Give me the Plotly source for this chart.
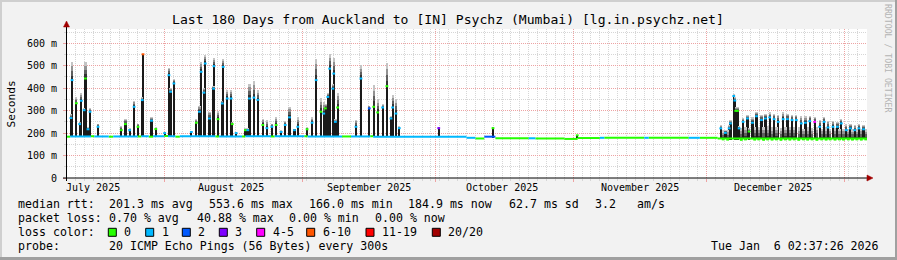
import plotly.graph_objects as go

# ---------------- canvas geometry ----------------
W, H = 897, 260
PL, PR, PT, PB = 67, 30, 29, 82
PW = W - PL - PR
PH = H - PT - PB

T_START = "2025-07-10 02:37:26"
T_END = "2026-01-06 02:37:26"
Y_MAX = 663.6

FONT = "DejaVu Sans Mono"

# ---------------- data ----------------
loss_labels = ["0", "1", "2", "3", "4-5", "6-10", "11-19", "20/20"]
loss_colors = ["#26ff00", "#00b8ff", "#0059ff", "#7e00ff", "#ff00ff", "#ff5500", "#ff0000", "#a10000"]

month_label_dates = ["2025-07-16", "2025-08-16", "2025-09-16", "2025-10-16", "2025-11-16", "2025-12-16"]
month_labels = ["July 2025", "August 2025", "September 2025", "October 2025", "November 2025", "December 2025"]

y_tick_vals = [0, 100, 200, 300, 400, 500, 600]
y_tick_text = ["0", "100 m", "200 m", "300 m", "400 m", "500 m", "600 m"]

# baseline median (ms) runs: start, value, loss level (each run lasts until the next start)
base_start = ["2025-07-10 02:37", "2025-07-10 20:00", "2025-07-15 12:00", "2025-07-16 06:00", "2025-07-19 12:00",
              "2025-07-20 12:00", "2025-07-26 00:00", "2025-07-26 20:00", "2025-07-28 12:00", "2025-07-29 12:00",
              "2025-08-01 00:00", "2025-08-01 20:00", "2025-08-03 12:00", "2025-08-04 12:00", "2025-08-12 12:00",
              "2025-08-13 08:00", "2025-08-18 12:00", "2025-08-19 06:00", "2025-08-25 00:00", "2025-08-25 20:00",
              "2025-09-01 12:00", "2025-09-02 06:00", "2025-09-10 00:00", "2025-09-12 00:00", "2025-09-16 08:00",
              "2025-09-17 00:00", "2025-10-08 00:00", "2025-10-10 00:00", "2025-10-12 00:00", "2025-10-14 12:00",
              "2025-10-22 00:00", "2025-10-23 12:00", "2025-10-30 00:00", "2025-11-02 00:00", "2025-11-07 00:00",
              "2025-11-08 00:00", "2025-11-17 00:00", "2025-11-18 00:00", "2025-11-27 00:00", "2025-11-29 12:00",
              "2025-12-03 12:00"]
base_end = base_start[1:] + [T_END]
base_value = [184, 185, 186, 185, 184,
              185, 185, 186, 184, 186,
              187, 186, 184, 186, 185,
              185, 185, 186, 185, 186,
              186, 185, 185, 185, 186,
              184, 179, 176, 184, 177,
              177, 176, 174, 178, 179,
              179, 179, 179, 179, 179,
              176]
base_loss = [0, 1, 0, 1, 0,
             1, 0, 1, 0, 1,
             0, 1, 0, 1, 0,
             1, 0, 1, 0, 1,
             0, 1, 0, 1, 0,
             1, 1, 0, 2, 0,
             1, 0, 0, 0, 1,
             0, 1, 0, 1, 0,
             0]

# spikes: time, median, smoke top, smoke floor, loss level
spike_times = [
    "2025-07-11 00:00", "2025-07-11 06:00", "2025-07-12 05:00", "2025-07-12 23:00", "2025-07-13 08:00",
    "2025-07-13 23:00", "2025-07-14 06:00", "2025-07-14 20:00", "2025-07-15 07:00", "2025-07-17 02:00",
    "2025-07-22 08:00", "2025-07-23 06:00", "2025-07-24 05:00", "2025-07-25 05:00", "2025-07-26 02:00",
    "2025-07-27 01:00", "2025-07-27 05:00", "2025-07-29 03:00", "2025-07-30 02:00", "2025-08-01 02:00",
    "2025-08-02 01:00", "2025-08-02 10:00", "2025-08-03 04:00", "2025-08-07 02:00", "2025-08-08 05:00",
    "2025-08-08 22:00", "2025-08-09 07:00", "2025-08-09 22:00", "2025-08-10 05:00", "2025-08-11 04:00",
    "2025-08-12 02:00", "2025-08-12 04:00", "2025-08-13 02:00", "2025-08-14 01:00", "2025-08-14 06:00",
    "2025-08-15 04:00", "2025-08-16 01:00", "2025-08-16 07:00", "2025-08-17 04:00", "2025-08-19 06:00",
    "2025-08-19 19:00", "2025-08-20 04:00", "2025-08-21 04:00", "2025-08-22 01:00", "2025-08-23 04:00",
    "2025-08-24 02:00", "2025-08-25 05:00", "2025-08-26 04:00", "2025-08-27 07:00", "2025-08-28 05:00",
    "2025-08-29 04:00", "2025-08-30 07:00", "2025-08-31 01:00",
    "2025-09-02 03:00", "2025-09-03 06:00", "2025-09-04 04:00", "2025-09-05 06:00", "2025-09-05 21:00",
    "2025-09-06 06:00", "2025-09-06 19:00", "2025-09-07 05:00", "2025-09-07 22:00", "2025-09-08 03:00",
    "2025-09-08 12:00", "2025-09-09 00:00", "2025-09-13 03:00", "2025-09-14 06:00", "2025-09-16 03:00",
    "2025-09-17 03:00", "2025-09-18 00:00", "2025-09-19 03:00", "2025-09-20 02:00", "2025-09-21 00:00",
    "2025-09-21 09:00", "2025-09-22 03:00", "2025-09-22 21:00",
    "2025-10-01 18:00", "2025-10-13 23:00", "2025-11-01 22:00",
    "2025-12-04 05:00", "2025-12-04 18:00", "2025-12-05 06:00", "2025-12-05 18:00", "2025-12-06 02:00",
    "2025-12-06 09:00", "2025-12-07 03:00", "2025-12-07 09:00", "2025-12-07 14:00", "2025-12-07 23:00",
    "2025-12-08 08:00", "2025-12-08 20:00", "2025-12-09 06:00", "2025-12-09 18:00", "2025-12-10 05:00",
    "2025-12-10 14:00", "2025-12-11 08:00", "2025-12-11 20:00", "2025-12-12 06:00", "2025-12-12 18:00",
    "2025-12-13 09:00", "2025-12-13 20:00", "2025-12-14 06:00", "2025-12-14 18:00", "2025-12-15 05:00",
    "2025-12-15 18:00", "2025-12-16 05:00", "2025-12-16 18:00", "2025-12-17 03:00", "2025-12-17 18:00",
    "2025-12-18 06:00", "2025-12-18 18:00", "2025-12-19 05:00", "2025-12-19 18:00", "2025-12-20 06:00",
    "2025-12-20 18:00", "2025-12-21 05:00", "2025-12-21 18:00", "2025-12-22 08:00", "2025-12-22 20:00",
    "2025-12-23 06:00", "2025-12-23 18:00", "2025-12-24 05:00", "2025-12-24 18:00", "2025-12-25 08:00",
    "2025-12-25 20:00", "2025-12-26 11:00", "2025-12-26 22:00", "2025-12-27 11:00", "2025-12-27 22:00",
    "2025-12-28 08:00", "2025-12-28 20:00", "2025-12-29 11:00", "2025-12-29 22:00", "2025-12-30 11:00",
    "2025-12-30 22:00", "2025-12-31 08:00", "2025-12-31 20:00", "2026-01-01 11:00", "2026-01-01 22:00",
    "2026-01-02 09:00", "2026-01-02 20:00", "2026-01-03 08:00", "2026-01-03 20:00", "2026-01-04 07:00",
    "2026-01-04 20:00", "2026-01-05 08:00", "2026-01-05 20:00",
]
spike_median = [
    267, 436, 333, 240, 344, 302, 443, 217, 295, 228,
    213, 240, 213, 317, 228, 347, 551, 255, 218, 200,
    458, 384, 421, 205, 246, 295, 473, 380, 510, 265,
    398, 498, 262, 332, 495, 354, 354, 240, 200, 213,
    213, 354, 358, 348, 236, 222, 228, 236, 205, 236,
    270, 213, 228,
    217, 246, 436, 295, 287, 310, 361, 487, 398, 465,
    250, 314, 228, 443, 310, 317, 292, 314, 409, 265,
    314, 287, 222,
    222, 222, 190,
    221, 172, 201, 171, 221, 243, 365, 345, 299, 299,
    221, 170, 250, 172, 265, 207, 246, 171, 275, 172,
    258, 170, 265, 172, 270, 171, 262, 172, 250, 170,
    262, 172, 262, 171, 258, 172, 258, 170, 243, 172,
    246, 171, 253, 172, 250, 170, 228, 172, 250, 171,
    225, 172, 228, 171, 228, 172, 243, 171, 213, 172,
    221, 171, 213, 172, 221, 171, 217, 172,
]
spike_top = [
    285, 517, 361, 250, 377, 312, 517, 225, 312, 242,
    233, 265, 222, 345, 242, 360, 554, 272, 226, 205,
    492, 400, 442, 210, 262, 322, 517, 400, 547, 295,
    410, 535, 300, 345, 532, 390, 390, 250, 205, 222,
    222, 420, 430, 390, 265, 258, 242, 270, 212, 252,
    318, 220, 270,
    225, 270, 532, 355, 340, 330, 380, 553, 420, 535,
    262, 380, 260, 502, 322, 413, 350, 330, 510, 275,
    370, 350, 230,
    226, 226, 192,
    235, 212, 215, 215, 235, 258, 373, 360, 315, 315,
    232, 222, 268, 225, 282, 222, 270, 228, 292, 225,
    282, 228, 287, 230, 292, 225, 287, 228, 282, 222,
    292, 228, 287, 228, 282, 225, 282, 225, 275, 220,
    275, 225, 278, 222, 272, 228, 260, 220, 272, 225,
    255, 220, 255, 222, 250, 220, 262, 220, 240, 218,
    240, 218, 235, 218, 240, 220, 235, 218,
]
spike_floor = [185] * 53 + [185] * 23 + [182, 178, 176] + [172, 168] * 34
spike_loss = [
    1, 1, 0, 1, 1, 1, 0, 1, 1, 1,
    0, 0, 1, 1, 0, 1, 5, 1, 0, 1,
    1, 1, 1, 1, 0, 1, 1, 1, 1, 1,
    1, 1, 0, 1, 1, 1, 1, 0, 1, 0,
    1, 1, 1, 1, 0, 1, 1, 0, 1, 1,
    1, 1, 1,
    0, 1, 1, 0, 1, 0, 1, 1, 1, 1,
    1, 0, 1, 1, 2, 0, 0, 1, 0, 1,
    1, 1, 1,
    3, 0, 0,
    1, 0, 1, 0, 1, 1, 1, 1, 0, 0,
    1, 0, 1, 0, 1, 0, 1, 0, 1, 0,
    1, 0, 1, 0, 1, 0, 1, 0, 1, 0,
    1, 0, 1, 0, 1, 0, 1, 0, 1, 0,
    1, 0, 1, 0, 4, 0, 1, 0, 1, 0,
    1, 0, 1, 0, 1, 0, 1, 0, 1, 0,
    1, 0, 1, 0, 1, 0, 1, 0,
]

# legend statistics text
stat_rows = [
    ["median rtt:", "201.3 ms avg", "553.6 ms max", "166.0 ms min", "184.9 ms now", "62.7 ms sd", "3.2", "am/s"],
    ["packet loss:", "0.70 % avg", "40.88 % max", "0.00 % min", "0.00 % now"],
    ["loss color:"],
    ["probe:", "20 ICMP Echo Pings (56 Bytes) every 300s"],
]
timestamp_text = "Tue Jan  6 02:37:26 2026"
title_text = "Last 180 Days from Auckland to [IN] Psychz (Mumbai) [lg.in.psychz.net]"

# ---------------- layout positions (pixels) ----------------
stat_x = [
    [16, 107.3, 207.3, 306.7, 406, 507.3, 593.3, 635],
    [16, 107.3, 194.5, 286.7, 372.7],
    [16],
    [16, 107.3],
]
row_y = [204.3, 218.3, 232.3, 246.3]
box_x = [108.3, 145.7, 182.3, 219.3, 256.7, 306.7, 366, 432.3]


def px_x(px):
    return (px - PL) / PW


def px_y(py):
    return (H - PB - py) / PH


def nb(s):
    return s.replace(" ", "\u00a0")


DAY_MS = 86400000
BAR_W = 0.5 * DAY_MS
fig = go.Figure()

# ---------- smoke: core (floor -> median) ----------
fig.add_trace(go.Bar(
    x=spike_times, base=spike_floor,
    y=[m - f for m, f in zip(spike_median, spike_floor)],
    width=[BAR_W] * len(spike_times),
    marker=dict(color="#1a1a1a", line=dict(width=0)),
    hoverinfo="skip", showlegend=False))

# ---------- smoke: fading part (median -> top) ----------
fade_colors = ["#333333", "#5f5f5f", "#929292", "#c4c4c4"]
for k, c in enumerate(fade_colors):
    fig.add_trace(go.Bar(
        x=spike_times,
        base=[m + (t - m) * k / 4 for m, t in zip(spike_median, spike_top)],
        y=[(t - m) / 4 for m, t in zip(spike_median, spike_top)],
        width=[BAR_W] * len(spike_times),
        marker=dict(color=c, line=dict(width=0)),
        hoverinfo="skip", showlegend=False))

# ---------- baseline median line, coloured by loss ----------
for lvl in sorted(set(base_loss)):
    xs, ys = [], []
    for s, e, v, l in zip(base_start, base_end, base_value, base_loss):
        if l == lvl:
            xs += [s, e, None]
            ys += [v, v, None]
    fig.add_trace(go.Scatter(
        x=xs, y=ys, mode="lines",
        line=dict(color=loss_colors[lvl], width=2),
        hoverinfo="skip", showlegend=False))

# ---------- median markers on spikes ----------
fig.add_trace(go.Scatter(
    x=spike_times, y=spike_median, mode="markers",
    marker=dict(symbol="line-ew", size=2,
                color=[loss_colors[l] for l in spike_loss],
                line=dict(width=2, color=[loss_colors[l] for l in spike_loss])),
    hoverinfo="skip", showlegend=False))

shapes = []
annotations = []

# axis lines + arrows
shapes.append(dict(type="line", xref="paper", yref="paper",
                   x0=px_x(63), x1=px_x(869), y0=px_y(178), y1=px_y(178),
                   line=dict(color="black", width=1)))
shapes.append(dict(type="line", xref="paper", yref="paper",
                   x0=px_x(66.5), x1=px_x(66.5), y0=px_y(181), y1=px_y(24),
                   line=dict(color="black", width=1)))
ax_arrow = "M {} {} L {} {} L {} {} Z".format(
    px_x(867), px_y(175), px_x(873), px_y(178), px_x(867), px_y(181))
shapes.append(dict(type="path", xref="paper", yref="paper", path=ax_arrow,
                   fillcolor="#a10000", line=dict(color="#a10000", width=0.5)))
ay_arrow = "M {} {} L {} {} L {} {} Z".format(
    px_x(63.5), px_y(27), px_x(66.5), px_y(21), px_x(69.5), px_y(27))
shapes.append(dict(type="path", xref="paper", yref="paper", path=ay_arrow,
                   fillcolor="#a10000", line=dict(color="#a10000", width=0.5)))

# outer frame
shapes.append(dict(type="rect", xref="paper", yref="paper",
                   x0=px_x(0), x1=px_x(W), y0=px_y(0), y1=px_y(2),
                   fillcolor="#cfcfcf", line=dict(width=0), layer="below"))
shapes.append(dict(type="rect", xref="paper", yref="paper",
                   x0=px_x(0), x1=px_x(2), y0=px_y(0), y1=px_y(H),
                   fillcolor="#cfcfcf", line=dict(width=0), layer="below"))
shapes.append(dict(type="rect", xref="paper", yref="paper",
                   x0=px_x(0), x1=px_x(W), y0=px_y(257), y1=px_y(H),
                   fillcolor="#a0a0a0", line=dict(width=0), layer="below"))
shapes.append(dict(type="rect", xref="paper", yref="paper",
                   x0=px_x(W - 2), x1=px_x(W), y0=px_y(0), y1=px_y(H),
                   fillcolor="#a0a0a0", line=dict(width=0), layer="below"))

# legend colour boxes
for bx, col, lab in zip(box_x, loss_colors, loss_labels):
    shapes.append(dict(type="rect", xref="paper", yref="paper",
                       x0=px_x(bx), x1=px_x(bx + 8), y0=px_y(228.3), y1=px_y(236.3),
                       fillcolor=col, line=dict(color="black", width=1)))
    annotations.append(dict(xref="paper", yref="paper", x=px_x(bx + 14), y=px_y(row_y[2]),
                            text=nb(lab), showarrow=False, xanchor="left", yanchor="middle",
                            font=dict(family=FONT, size=11.6, color="black")))

# statistics rows
for row, xs, yy in zip(stat_rows, stat_x, row_y):
    for txt, xx in zip(row, xs):
        annotations.append(dict(xref="paper", yref="paper", x=px_x(xx), y=px_y(yy),
                                text=nb(txt), showarrow=False, xanchor="left", yanchor="middle",
                                font=dict(family=FONT, size=11.6, color="black")))
annotations.append(dict(xref="paper", yref="paper", x=px_x(880.5), y=px_y(row_y[3]),
                        text=nb(timestamp_text), showarrow=False, xanchor="right", yanchor="middle",
                        font=dict(family=FONT, size=11.6, color="black")))

# title
annotations.append(dict(xref="paper", yref="paper", x=px_x(447.5), y=px_y(19),
                        text=nb(title_text), showarrow=False, xanchor="center", yanchor="middle",
                        font=dict(family=FONT, size=13.1, color="black")))
# y axis title
annotations.append(dict(xref="paper", yref="paper", x=px_x(11), y=px_y(103.5),
                        text="Seconds", showarrow=False, textangle=-90,
                        xanchor="center", yanchor="middle",
                        font=dict(family=FONT, size=11.2, color="black")))
# watermark
annotations.append(dict(xref="paper", yref="paper", x=px_x(888.5), y=px_y(58.5),
                        text=nb("RRDTOOL / TOBI OETIKER"), showarrow=False, textangle=90,
                        xanchor="center", yanchor="middle",
                        font=dict(family=FONT, size=8.2, color="#b4b4b4")))
# month labels (through the x scale)
for d, lab in zip(month_label_dates, month_labels):
    annotations.append(dict(xref="x", yref="paper", x=d, y=px_y(187.3),
                            text=nb(lab), showarrow=False, xanchor="center", yanchor="middle",
                            font=dict(family=FONT, size=10, color="black")))

GRID_MAJOR = "#eda3a3"
GRID_MINOR = "#d6d6d6"

fig.update_layout(
    width=W, height=H,
    margin=dict(l=PL, r=PR, t=PT, b=PB, pad=0),
    paper_bgcolor="#f2f2f2", plot_bgcolor="white",
    font=dict(family=FONT, size=10, color="black"),
    barmode="overlay", bargap=0,
    showlegend=False,
    shapes=shapes, annotations=annotations,
    xaxis=dict(
        type="date", range=[T_START, T_END], fixedrange=True,
        tick0="2025-08-01", dtick="M1", showticklabels=False,
        showgrid=True, gridcolor=GRID_MAJOR, gridwidth=1, griddash="1px,1px",
        ticks="outside", ticklen=3, tickcolor=GRID_MAJOR,
        minor=dict(tick0="2025-08-01", dtick=2 * DAY_MS, showgrid=True,
                   gridcolor=GRID_MINOR, gridwidth=1, griddash="1px,1px",
                   ticks="outside", ticklen=2, tickcolor=GRID_MINOR),
        showline=False, zeroline=False),
    yaxis=dict(
        range=[0, Y_MAX], fixedrange=True,
        tickvals=y_tick_vals, ticktext=[nb(t) for t in y_tick_text],
        tickfont=dict(family=FONT, size=10, color="black"),
        showgrid=True, gridcolor=GRID_MAJOR, gridwidth=1, griddash="1px,1px",
        ticks="outside", ticklen=3, tickcolor=GRID_MAJOR, ticklabelstandoff=4,
        minor=dict(dtick=50, showgrid=True, gridcolor=GRID_MINOR, gridwidth=1,
                   griddash="1px,1px", ticks="outside", ticklen=2, tickcolor=GRID_MINOR),
        showline=False, zeroline=False),
)

fig.write_html("out.html", config={"displayModeBar": False, "staticPlot": True})
